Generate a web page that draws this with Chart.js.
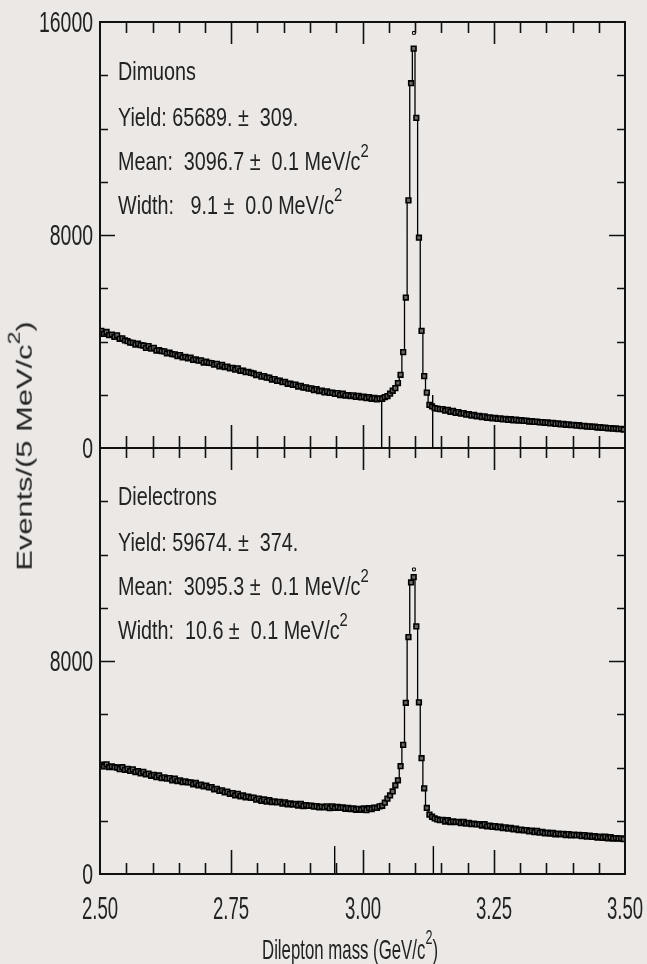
<!DOCTYPE html>
<html>
<head>
<meta charset="utf-8">
<title>J/psi dilepton mass</title>
<script src="https://cdn.jsdelivr.net/npm/chart.js@4.4.1/dist/chart.umd.min.js"></script>
<style>
  body { margin: 0; background: #ebe8e6; }
  #wrap { position: relative; width: 647px; height: 964px; overflow: hidden;
          font-family: 'Liberation Sans', Arial, Helvetica, sans-serif; color: #222; }
  canvas { position: absolute; left: 0; top: 0; }
  .lbl { position: absolute; white-space: pre; line-height: 1; }
  .xtick { font-size: 31px; transform: translate(-50%, -50%) scaleX(0.6); }
  .ytick { font-size: 29px; transform-origin: 100% 50%; transform: translate(-100%, -50%) scaleX(0.67); }
  .note { font-size: 25px; transform-origin: 0 0; transform: scaleX(0.79); }
  .xtitle { font-size: 28px; transform: translate(-50%, 0) scaleX(0.6); }
  .ytitle { font-size: 22.5px; transform: translate(-50%, -50%) rotate(-90deg) scaleX(1.37); }
  sup { font-size: 0.75em; vertical-align: baseline; position: relative; top: -0.7em; }
</style>
</head>
<body>
<div id="wrap">
  <canvas id="topChart" width="647" height="964"></canvas>
  <canvas id="botChart" width="647" height="964"></canvas>
</div>
<script>
// 5 MeV bins, centres from 2.5025 to 3.4975 GeV/c2
var massBins = [];
for (var i = 0; i < 200; i++) massBins.push(+(2.5025 + 0.005 * i).toFixed(4));

var dimuonCounts = [
  4400, 4290, 4360, 4240, 4260, 4170, 4230, 4100, 4120, 4040,
  4010, 3960, 3950, 3880, 3920, 3860, 3850, 3760, 3830, 3730,
  3760, 3660, 3680, 3640, 3630, 3550, 3580, 3530, 3520, 3450,
  3490, 3400, 3420, 3370, 3390, 3310, 3330, 3280, 3290, 3210,
  3240, 3200, 3190, 3130, 3160, 3070, 3120, 3040, 3060, 2990,
  3010, 2940, 2990, 2900, 2910, 2850, 2860, 2820, 2800, 2740,
  2750, 2680, 2700, 2640, 2640, 2570, 2590, 2520, 2530, 2470,
  2480, 2410, 2420, 2370, 2380, 2310, 2330, 2270, 2280, 2230,
  2240, 2170, 2210, 2140, 2150, 2090, 2130, 2070, 2080, 2030,
  2060, 1990, 2040, 1970, 1990, 1950, 1980, 1920, 1960, 1900,
  1930, 1870, 1910, 1850, 1880, 1830, 1860, 1850, 1910, 1950,
  2040, 2150, 2250, 2440, 2750, 3600, 5650, 9300, 13700, 15000,
  12400, 7900, 4400, 2700, 2080, 1620, 1560, 1500, 1480, 1460,
  1460, 1400, 1430, 1360, 1390, 1320, 1350, 1290, 1310, 1250,
  1270, 1220, 1240, 1190, 1210, 1160, 1190, 1135, 1150, 1115,
  1130, 1090, 1115, 1075, 1090, 1055, 1080, 1040, 1065, 1030,
  1045, 1015, 1025, 995, 1005, 980, 990, 960, 975, 945,
  960, 925, 945, 905, 920, 890, 905, 870, 890, 855,
  870, 840, 855, 820, 835, 805, 815, 790, 800, 770,
  785, 760, 765, 740, 750, 725, 735, 710, 720, 695
];

var dielectronCounts = [
  4110, 4040, 4120, 4010, 4040, 4010, 4000, 3940, 4010, 3910,
  3950, 3870, 3930, 3830, 3860, 3780, 3840, 3740, 3770, 3690,
  3720, 3640, 3700, 3600, 3630, 3580, 3600, 3520, 3580, 3490,
  3520, 3450, 3480, 3440, 3440, 3370, 3420, 3330, 3360, 3290,
  3320, 3250, 3260, 3180, 3200, 3120, 3140, 3070, 3090, 3010,
  3040, 2950, 3010, 2920, 2950, 2880, 2910, 2860, 2870, 2790,
  2830, 2750, 2800, 2720, 2770, 2700, 2730, 2690, 2710, 2640,
  2690, 2620, 2650, 2610, 2630, 2570, 2630, 2550, 2590, 2560,
  2570, 2530, 2550, 2500, 2530, 2500, 2540, 2470, 2540, 2480,
  2520, 2480, 2500, 2450, 2480, 2440, 2460, 2410, 2450, 2410,
  2460, 2400, 2470, 2440, 2490, 2480, 2540, 2560, 2680, 2830,
  2950, 3100, 3330, 3520, 4050, 4850, 6430, 8900, 10950, 11150,
  9300, 6450, 4350, 3220, 2480, 2230, 2150, 2090, 2050, 2020,
  2030, 1970, 2020, 1950, 1980, 1950, 1960, 1910, 1960, 1890,
  1920, 1870, 1890, 1860, 1870, 1820, 1870, 1790, 1820, 1770,
  1800, 1750, 1780, 1720, 1750, 1700, 1730, 1680, 1700, 1650,
  1670, 1640, 1650, 1600, 1630, 1570, 1620, 1550, 1580, 1530,
  1550, 1520, 1540, 1490, 1520, 1490, 1510, 1460, 1500, 1450,
  1480, 1450, 1470, 1420, 1460, 1400, 1440, 1390, 1420, 1370,
  1400, 1360, 1400, 1340, 1380, 1330, 1350, 1330, 1340, 1310
];

// signal window markers and the single open point above each peak
var dimuonWindowMass = [3.0365, 3.1337];
var dimuonWindowTop = [1800, 1990];
var dielectronWindowMass = [2.947, 3.135];
var dielectronWindowTop = [1050, 1050];
var peakMarkerMass = [3.098, 3.098];
var peakMarkerCounts = [15590, 11440];

var xTickValues = [2.50, 2.75, 3.00, 3.25, 3.50];
var xTickLabels = ['2.50', '2.75', '3.00', '3.25', '3.50'];
var topYTicks = [0, 8000, 16000];
var botYTicks = [0, 8000];

var dimuonText = ['Dimuons', 'Yield: 65689. \u00b1  309.',
  'Mean:  3096.7 \u00b1  0.1 MeV/c<sup>2</sup>', 'Width:   9.1 \u00b1  0.0 MeV/c<sup>2</sup>'];
var dielectronText = ['Dielectrons', 'Yield: 59674. \u00b1  374.',
  'Mean:  3095.3 \u00b1  0.1 MeV/c<sup>2</sup>', 'Width:  10.6 \u00b1  0.1 MeV/c<sup>2</sup>'];

function pairs(xs, ys) {
  return xs.map(function (x, i) { return { x: x, y: ys[i] }; });
}

// inward ticks on all four sides + frame
var frameTicks = {
  id: 'frameTicks',
  afterDatasetsDraw: function (chart, args, o) {
    var ctx = chart.ctx, a = chart.chartArea;
    var xs = chart.scales.x, ys = chart.scales.y;
    ctx.save();
    ctx.strokeStyle = '#111';
    ctx.lineWidth = 1.6;
    ctx.beginPath();
    for (var k = 1; k < 20; k++) {
      var v = 2.5 + k * 0.05;
      var px = Math.round(xs.getPixelForValue(v)) + 0.5;
      var major = k % 5 === 0;
      ctx.moveTo(px, a.top);
      ctx.lineTo(px, a.top + (major ? o.topMajor : o.topMinor));
      ctx.moveTo(px, a.bottom);
      ctx.lineTo(px, a.bottom - (major ? o.botMajor : o.botMinor));
    }
    for (var t = 2000; t < 16000; t += 2000) {
      var py = Math.round(ys.getPixelForValue(t)) + 0.5;
      var big = t % 8000 === 0;
      ctx.moveTo(a.left, py);
      ctx.lineTo(a.left + (big ? 15 : 8), py);
      ctx.moveTo(a.right, py);
      ctx.lineTo(a.right - (big ? 16 : 8), py);
    }
    ctx.stroke();
    ctx.lineWidth = 2;
    ctx.strokeRect(a.left, a.top, a.right - a.left, a.bottom - a.top);
    ctx.restore();
  }
};

function makePanel(id, counts, winMass, winTop, peakIdx, pad, tickOpts) {
  var pts = pairs(massBins, counts);
  var datasets = [
    {
      data: pts, showLine: false, pointStyle: 'rect', pointRadius: 3.3,
      borderWidth: 1.6, borderColor: '#000', backgroundColor: '#6a6866'
    },
    {
      data: pts, stepped: 'middle', borderWidth: 1.3, borderColor: '#000',
      pointRadius: 0, fill: false
    },
    {
      data: [{ x: peakMarkerMass[peakIdx], y: peakMarkerCounts[peakIdx] }], showLine: false,
      pointStyle: 'rect', pointRadius: 2, borderWidth: 1, borderColor: '#000', backgroundColor: '#ebe8e6'
    }
  ];
  winMass.forEach(function (m, i) {
    datasets.push({ data: [{ x: m, y: 0 }, { x: m, y: winTop[i] }], borderWidth: 1.4,
      borderColor: '#000', pointRadius: 0 });
  });
  return new Chart(document.getElementById(id), {
    type: 'line',
    data: { datasets: datasets },
    options: {
      responsive: false, animation: false, events: [],
      layout: { padding: pad },
      plugins: { legend: { display: false }, tooltip: { enabled: false }, frameTicks: tickOpts },
      scales: {
        x: { type: 'linear', min: 2.5, max: 3.5, display: false },
        y: { min: 0, max: 16000, display: false }
      }
    },
    plugins: [frameTicks]
  });
}

var topChart = makePanel('topChart', dimuonCounts, dimuonWindowMass, dimuonWindowTop, 0,
  { left: 100, right: 22, top: 22, bottom: 516 },
  { topMinor: 11, topMajor: 22, botMinor: 12, botMajor: 23 });
var botChart = makePanel('botChart', dielectronCounts, dielectronWindowMass, dielectronWindowTop, 1,
  { left: 100, right: 22, top: 448, bottom: 90 },
  { topMinor: 10, topMajor: 22, botMinor: 11, botMajor: 24 });

var wrap = document.getElementById('wrap');
function addLabel(html, x, y, cls) {
  var d = document.createElement('div');
  d.className = 'lbl ' + cls;
  d.innerHTML = html;
  d.style.left = x + 'px';
  d.style.top = y + 'px';
  wrap.appendChild(d);
}

// tick labels placed from the chart scales
xTickValues.forEach(function (v, i) {
  addLabel(xTickLabels[i], botChart.scales.x.getPixelForValue(v), 908, 'xtick');
});
topYTicks.forEach(function (v) {
  addLabel(String(v), topChart.chartArea.left - 7.5, topChart.scales.y.getPixelForValue(v), 'ytick');
});
botYTicks.forEach(function (v) {
  addLabel(String(v), botChart.chartArea.left - 7.5, botChart.scales.y.getPixelForValue(v), 'ytick');
});

// fit results
var lineOffsets = [37, 83, 127, 171];
dimuonText.forEach(function (t, i) {
  addLabel(t, topChart.chartArea.left + 18, topChart.chartArea.top + lineOffsets[i], 'note');
});
dielectronText.forEach(function (t, i) {
  addLabel(t, botChart.chartArea.left + 18, botChart.chartArea.top + lineOffsets[i] - 1, 'note');
});

addLabel('Dilepton mass (GeV/c<sup>2</sup>)', 350, 936, 'xtitle');
addLabel('Events/(5 MeV/c<sup>2</sup>)', 25, 446, 'ytitle');
</script>
</body>
</html>
